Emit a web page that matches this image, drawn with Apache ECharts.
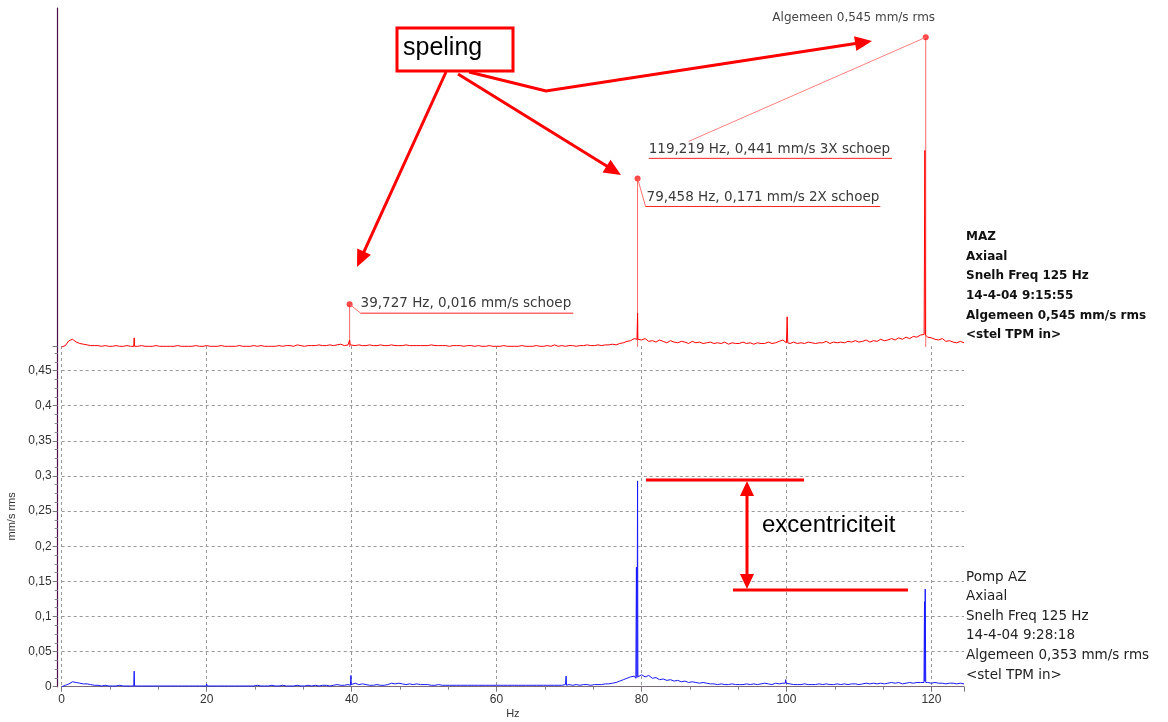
<!DOCTYPE html>
<html><head><meta charset="utf-8">
<script src="https://cdn.jsdelivr.net/npm/echarts@6/dist/echarts.min.js"></script>
<style>html,body{margin:0;padding:0;background:#fff}#c{width:1168px;height:722px}</style>
</head><body><div id="c"></div>
<script>
// ---------------- data ----------------
const STEP_HZ = 0.5;          // spectrum sample spacing (Hz)
const X_MAX = 124.5;
// upper spectrum (MAZ), values in 0.001 mm/s, one per 0.5 Hz from 0 Hz
const redBase = [
 0,2,9,11,7,5,4,3,2,2,  2,1,2,1,1,2,1,1,2,1,
 1,1,2,1,1,1,2,1,1,1,  1,1,2,1,1,1,1,2,1,1,
 2,1,1,1,2,1,1,1,1,2,  1,1,1,2,1,2,1,1,1,1,
 2,1,2,2,1,3,2,1,2,2,  2,3,2,2,3,2,3,4,2,3,
 3,2,3,2,2,3,2,2,3,2,  2,3,2,2,2,3,2,2,2,2,
 2,2,3,2,2,2,2,1,2,2,  2,1,2,2,1,2,1,1,2,1,
 1,1,2,1,1,1,1,2,1,1,  1,2,1,1,2,1,3,1,2,1,
 2,2,1,2,2,3,2,2,3,2,  3,3,4,3,5,6,8,9,12,11,
 10,12,8,9,7,10,8,6,9,7, 6,8,7,5,8,6,7,5,6,7,
 5,6,5,7,4,6,5,5,7,5,  6,4,6,5,5,7,5,6,8,10,
 6,5,7,5,6,5,7,6,5,6,  6,8,5,7,6,7,6,8,7,9,
 7,8,10,7,9,8,11,9,10,12, 10,13,11,14,12,15,14,17,18,14,
 13,11,10,12,8,9,7,6,8,6
];
// narrow lines of the upper spectrum: [Hz, 0.001 mm/s]
const redSpikes = [
 [9.94,1],[10.0,13],[10.06,1],
 [39.65,3],[39.73,10],[39.81,3],
 [79.38,11],[79.46,48],[79.54,12],
 [100.02,6],[100.1,43],[100.18,6],
 [119.02,17],[119.1,280],[119.18,17]
];
// lower spectrum (Pomp AZ), values in 0.001 mm/s, one per 0.5 Hz from 0 Hz
const blueBase = [
 0,2,4,7,6,5,4,4,3,2,  2,1,2,1,1,1,2,1,1,1,
 1,1,1,1,1,1,1,1,1,1,  1,1,1,1,1,1,1,1,1,1,
 2,1,1,1,1,1,1,1,1,1,  1,1,1,1,2,1,1,1,2,1,
 1,2,1,1,1,2,1,1,2,1,  2,1,2,2,1,2,3,2,2,3,
 4,5,3,4,3,2,2,3,2,2,  3,5,4,5,4,3,4,3,4,3,
 3,3,2,2,3,2,2,2,2,2,  2,2,2,2,2,2,2,2,2,2,
 2,2,2,2,2,2,2,2,2,2,  2,2,2,2,2,2,2,2,2,3,
 3,2,3,2,3,3,2,3,3,3,  4,4,5,6,8,10,12,14,15,18,
 17,14,16,12,13,10,11,9,10,8, 9,7,8,6,7,6,5,6,5,4,
 4,3,4,3,3,4,3,3,3,4,  3,4,3,4,5,4,3,5,4,5,
 6,4,3,3,3,4,3,3,3,4,  3,4,3,3,4,3,4,3,4,4,
 3,4,5,4,5,4,5,4,5,6,  5,6,4,5,6,5,6,6,7,6,
 5,6,5,5,4,5,5,4,5,4
];
const blueSpikes = [
 [9.94,1],[10.0,22],[10.06,1],
 [19.94,1],[20.0,4],[20.06,1],
 [39.84,2],[39.9,16],[39.96,3],
 [69.54,2],[69.6,15],[69.66,2],
 [79.22,12],[79.3,170],[79.38,13],[79.46,293],[79.54,14],
 [99.84,5],[99.9,10],[99.96,5],
 [118.98,6],[119.05,121],[119.1,8],[119.15,139],[119.22,6]
];
// cursor markers of the upper spectrum
const markerFreqs = [39.727, 79.458, 119.219];
const markerHeights = [0.061, 0.240, 0.441];
const markerLabels = ['39,727 Hz, 0,016 mm/s schoep', '79,458 Hz, 0,171 mm/s 2X schoep', '119,219 Hz, 0,441 mm/s 3X schoep'];
const overallLabel = 'Algemeen 0,545 mm/s rms';
const upperInfo = ['MAZ','Axiaal','Snelh Freq 125 Hz','14-4-04 9:15:55','Algemeen 0,545 mm/s rms','<stel TPM in>'];
const lowerInfo = ['Pomp AZ','Axiaal','Snelh Freq 125 Hz','14-4-04 9:28:18','Algemeen 0,353 mm/s rms','<stel TPM in>'];
const yName = 'mm/s rms';
const xName = 'Hz';
const noteSpeling = 'speling';
const noteExc = 'excentriciteit';

// ---------------- build ----------------
function build(base, spikes) {
  const pts = base.map((v, i) => [i * STEP_HZ, v / 1000]);
  spikes.forEach(s => pts.push([s[0], s[1] / 1000]));
  pts.sort((a, b) => a[0] - b[0]);
  return pts;
}
const FONT = '"DejaVu Sans", sans-serif';
const TICKFONT = '"Liberation Sans", Arial, sans-serif';
const AXIS_PURPLE = '#4c0f45';

const chart = echarts.init(document.getElementById('c'), null, {renderer: 'canvas'});
const fmtY = v => {
  const k = v / 0.05;
  if (Math.abs(k - Math.round(k)) > 1e-6) return '';
  return String(+v.toFixed(2)).replace('.', ',');
};
const fmtX = v => (Math.abs(v / 20 - Math.round(v / 20)) > 1e-6 ? '' : String(v));

const option = {
  animation: false,
  backgroundColor: '#fff',
  grid: [
    {left: 61.7, right: 204, top: 346, bottom: 35.3, outerBoundsMode: 'none', containLabel: false},
    {left: 61.7, right: 204, top: 8, bottom: 375, outerBoundsMode: 'none', containLabel: false}
  ],
  xAxis: [
    {
      type: 'value', gridIndex: 0, min: 0, max: X_MAX, interval: 20,
      name: xName, nameLocation: 'middle', nameGap: 22,
      nameTextStyle: {fontFamily: TICKFONT, fontSize: 11, color: '#333'},
      axisLine: {show: true, onZero: false, lineStyle: {color: '#7a6a7a', width: 1}},
      axisTick: {show: true, length: 5, lineStyle: {color: '#777'}},
      minorTick: {show: true, splitNumber: 3, length: 3, lineStyle: {color: '#888'}},
      axisLabel: {formatter: fmtX, showMaxLabel: false, fontFamily: TICKFONT, fontSize: 12, color: '#333', margin: 7},
      splitLine: {show: true, showMaxLine: false, lineStyle: {color: '#999', type: [3, 3], width: 1}}
    },
    {type: 'value', gridIndex: 1, min: 0, max: X_MAX, show: false}
  ],
  yAxis: [
    {
      type: 'value', gridIndex: 0, min: 0, max: 0.485, interval: 0.05, offset: 4,
      name: yName, nameLocation: 'middle', nameGap: 36, nameRotate: 90,
      nameTextStyle: {fontFamily: TICKFONT, fontSize: 11, color: '#333'},
      axisLine: {show: true, onZero: false, lineStyle: {color: AXIS_PURPLE, width: 1.2}},
      axisTick: {show: true, length: 5, lineStyle: {color: '#777'}},
      minorTick: {show: true, splitNumber: 4, length: 3, lineStyle: {color: '#888'}},
      axisLabel: {formatter: fmtY, showMaxLabel: false, fontFamily: TICKFONT, fontSize: 12, color: '#333', margin: 6},
      splitLine: {show: true, showMaxLine: false, showMinLine: false, lineStyle: {color: '#999', type: [3, 3], width: 1}}
    },
    {
      type: 'value', gridIndex: 1, min: 0, max: 0.4828, offset: 4,
      axisLine: {show: true, onZero: false, lineStyle: {color: AXIS_PURPLE, width: 1.2}},
      axisTick: {show: false}, axisLabel: {show: false}, splitLine: {show: false}
    }
  ],
  series: [
    {
      name: 'cursorLines', type: 'bar', xAxisIndex: 1, yAxisIndex: 1, barWidth: 1,
      data: markerFreqs.map((f, i) => [f, markerHeights[i]]),
      itemStyle: {color: '#ff6a6a'}, z: 1, silent: true
    },
    {
      name: 'MAZ', type: 'line', xAxisIndex: 1, yAxisIndex: 1, data: build(redBase, redSpikes),
      showSymbol: false, lineStyle: {color: '#ff0000', width: 1}, z: 2, silent: true
    },
    {
      name: 'cursors', type: 'scatter', xAxisIndex: 1, yAxisIndex: 1,
      data: markerFreqs.map((f, i) => [f, markerHeights[i]]),
      symbolSize: 6, itemStyle: {color: '#ff1a1a'}, z: 3, silent: true
    },
    {
      name: 'Pomp AZ', type: 'line', xAxisIndex: 0, yAxisIndex: 0, data: build(blueBase, blueSpikes),
      showSymbol: false, lineStyle: {color: '#1a1aff', width: 1}, z: 2, silent: true
    }
  ]
};
chart.setOption(option);

// ---------------- annotations ----------------
const ctx = document.createElement('canvas').getContext('2d');
function textW(t, font) { ctx.font = font; return ctx.measureText(t).width; }
function txt(t, x, y, font, fill, align) {
  return {type: 'text', z: 50, silent: true,
    style: {text: t, x: x, y: y, font: font, fill: fill,
      align: align || 'left', verticalAlign: 'middle', textAlign: align || 'left', textVerticalAlign: 'middle'}};
}
function seg(x1, y1, x2, y2, color, w) {
  return {type: 'line', z: 40, silent: true, shape: {x1, y1, x2, y2}, style: {stroke: color, lineWidth: w}};
}
function head(tx, ty, fx, fy, len, wid, color) {
  const dx = tx - fx, dy = ty - fy, L = Math.hypot(dx, dy);
  const ux = dx / L, uy = dy / L, nx = -uy, ny = ux;
  const bx = tx - ux * len, by = ty - uy * len;
  return {type: 'polygon', z: 41, silent: true,
    shape: {points: [[tx, ty], [bx + nx * wid / 2, by + ny * wid / 2], [bx - nx * wid / 2, by - ny * wid / 2]]},
    style: {fill: color}};
}
function arrow(pts, color, w, len, wid) {
  const n = pts.length;
  const [tx, ty] = pts[n - 1], [fx, fy] = pts[n - 2];
  const L = Math.hypot(tx - fx, ty - fy);
  const cut = [tx - (tx - fx) / L * (len - 2), ty - (ty - fy) / L * (len - 2)];
  const line = pts.slice(0, n - 1).concat([cut]);
  return [
    {type: 'polyline', z: 40, silent: true, shape: {points: line}, style: {stroke: color, lineWidth: w, fill: null}},
    head(tx, ty, fx, fy, len, wid, color)
  ];
}

const els = [];
const LBLFONT = '13.5px ' + FONT;
const dots = markerFreqs.map((f, i) => chart.convertToPixel({xAxisIndex: 1, yAxisIndex: 1}, [f, markerHeights[i]]));
// marker 1
{
  const [x, y] = dots[0];
  const w = textW(markerLabels[0], LBLFONT);
  els.push(seg(x, y, x + 11, y + 9, '#ff7070', 1));
  els.push(seg(x + 11, y + 9, x + 11 + w + 2, y + 9, '#ff2020', 1));
  els.push(txt(markerLabels[0], x + 11, y - 1, LBLFONT, '#3a3a3a'));
}
// marker 2
{
  const [x, y] = dots[1];
  const w = textW(markerLabels[1], LBLFONT);
  els.push(seg(x, y, x + 8, y + 28, '#ff7070', 1));
  els.push(seg(x + 8, y + 28, x + 8 + w + 2, y + 28, '#ff2020', 1));
  els.push(txt(markerLabels[1], x + 9, y + 19, LBLFONT, '#3a3a3a'));
}
// marker 3
{
  const [x, y] = dots[2];
  const w = textW(markerLabels[2], LBLFONT);
  const lx = x - 277, ly = y + 112;
  els.push(seg(lx + 40, ly - 8, x, y, '#ff8080', 1));
  els.push(seg(lx, ly + 9, lx + w + 2, ly + 9, '#ff2020', 1));
  els.push(txt(markerLabels[2], lx, ly, LBLFONT, '#3a3a3a'));
  els.push(txt(overallLabel, x - 72, 18, '12px ' + FONT, '#444', 'center'));
}
// info blocks
upperInfo.forEach((t, i) => els.push(txt(t, 966, 237 + i * 19.6, 'bold 12px ' + FONT, '#111')));
lowerInfo.forEach((t, i) => els.push(txt(t, 966, 577 + i * 19.6, '13.5px ' + FONT, '#222')));

// "speling" box + arrows
const RED = '#ff0000';
els.push({type: 'rect', z: 42, silent: true, shape: {x: 397, y: 28, width: 116, height: 43},
  style: {stroke: RED, lineWidth: 3, fill: '#fff'}});
els.push(txt(noteSpeling, 403, 48, '25px "Liberation Sans", Arial, sans-serif', '#000'));
els.push(...arrow([[446, 72], [357, 267]], RED, 3, 17, 15));
els.push(...arrow([[458, 74], [621, 175]], RED, 3, 17, 15));
els.push(...arrow([[469, 72], [546, 91], [872, 41]], RED, 3, 17, 15));

// excentriciteit
els.push(seg(646, 480, 804, 480, RED, 3));
els.push(seg(733, 590, 908, 590, RED, 3));
els.push(seg(747, 494, 747, 575, RED, 3));
els.push(head(747, 481, 747, 520, 15, 14, RED));
els.push(head(747, 589, 747, 540, 15, 14, RED));
els.push(txt(noteExc, 762, 525, '24px "Liberation Sans", Arial, sans-serif', '#000'));

chart.setOption({graphic: {elements: els}});
</script>
</body></html>
